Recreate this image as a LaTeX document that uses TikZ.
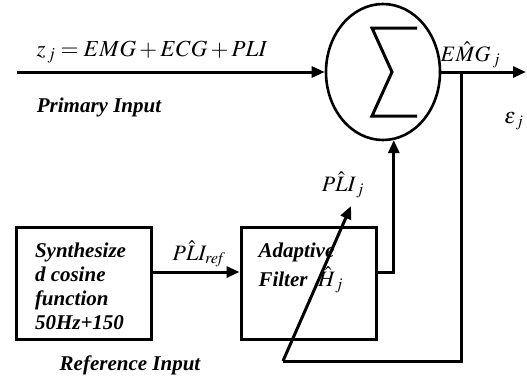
\documentclass[tikz,border=0pt]{standalone}
\usepackage{mathptmx}
\usepackage[no-math]{fontspec}
\setmainfont{Liberation Serif}
\usetikzlibrary{positioning, arrows.meta, shapes.geometric}

\begin{document}
\begin{tikzpicture}[
        x=1pt, y=-1pt,
        % frecce piene come nell'originale
        >={Triangle[length=13pt, width=11pt]},
        line width=3pt,
        % blocchi rettangolari
        block/.style={draw, rectangle, line width=3pt, minimum width=135pt, minimum height=112pt, inner sep=0pt},
        testo/.style={font=\fontsize{21}{24}\selectfont\bfseries\itshape, align=left, inner sep=0pt},
        formula/.style={font=\fontsize{22}{25}\selectfont, inner sep=0pt}
    ]
    \useasboundingbox (0,0) rectangle (527,376);

    % Nodi
    \node[draw, ellipse, line width=2.6pt, minimum width=114pt, minimum height=136pt, inner sep=0pt] (somma) at (383,72) {};
    \node[block] (sint) at (83.5,283) {};
    \node[block, right=87pt of sint] (filtro) {};
    \node[testo, anchor=west] (sinttxt) at ([xshift=19pt, yshift=-3pt]sint.west) {Synthesize\\d cosine\\function\\50Hz+150};
    \node[testo, anchor=north west] (filtrotxt) at (257,241) {Adaptive\\[5pt]Filter\ \ {\fontsize{22}{25}\selectfont\mdseries$\hat{H}_{\,j}$}};

    % simbolo di sommatoria
    \draw[line width=3pt, miter limit=20] (417,28) -- (372,28) -- (392,72) -- (372,116) -- (417,116);

    % Punti liberi
    \coordinate (ingresso) at (17,72);
    \coordinate (uscita) at (526,72);
    \coordinate (presa) at (461,72);
    \coordinate (basso) at (461,361);
    \coordinate (coda) at (283,361);
    \coordinate (punta) at (351,206);

    % Frecce
    \draw[->] (ingresso) -- (somma.west);
    \draw[->] (somma.east) -- (uscita);
    \draw (presa) -- (basso) -- (coda);
    \draw[->] (coda) -- (punta);
    \draw[->] ([yshift=11pt]sint.east) -- ([yshift=11pt]filtro.west);
    \draw[->] ([yshift=11pt]filtro.east) -| (somma.-81);

    % Testi
    \node[formula, font=\fontsize{23}{26}\selectfont] (zeta) at (152,52) {$z_{\,j} = EMG + ECG + PLI$};
    \node[testo] (primario) at (99,107) {Primary Input};
    \node[formula, anchor=west] (emg) at (439,55) {$E\hat{M}G_{\,j}$};
    \node[formula] (eps) at (514,121) {$\varepsilon_{\,j}$};
    \node[formula] (pliref) at (199,254) {$P\hat{L}I_{\mathit{ref}}$};
    \node[formula] (plij) at (343,185) {$P\hat{L}I_{\,j}$};
    \node[testo] (rif) at (130,365) {Reference Input};

\end{tikzpicture}
\end{document}
